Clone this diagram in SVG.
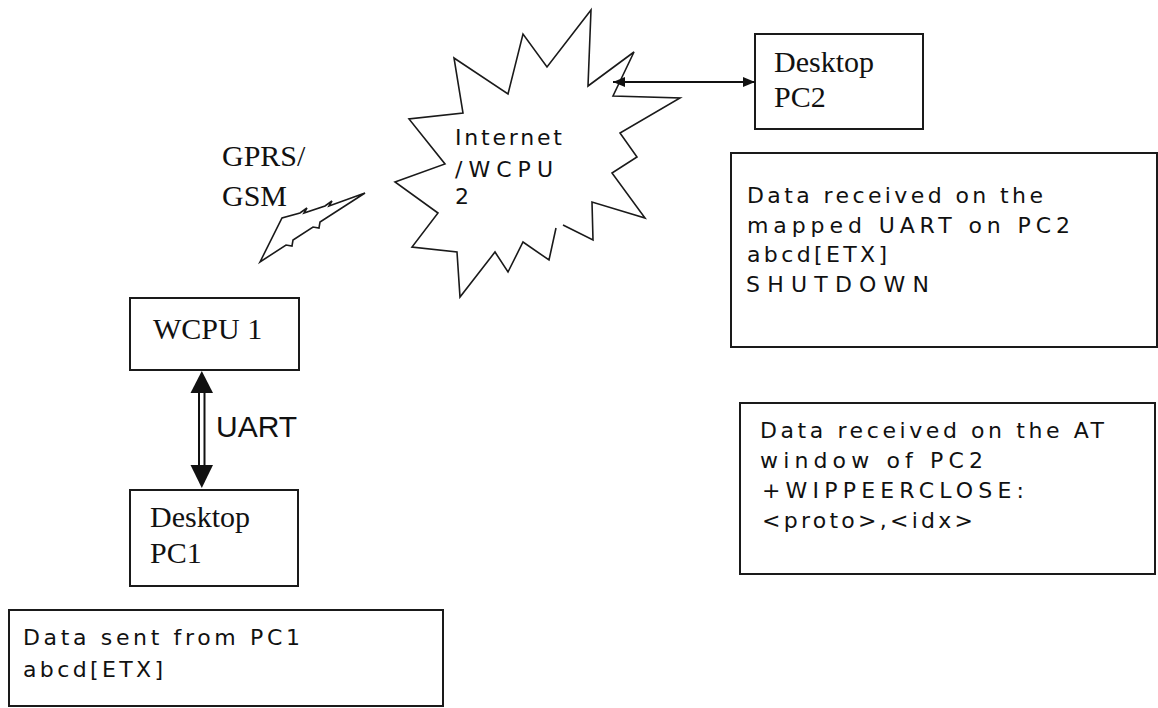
<svg xmlns="http://www.w3.org/2000/svg" width="1158" height="708" viewBox="0 0 1158 708">
<style>
.box{fill:#fff;stroke:#1a1a1a;stroke-width:2}
.shape{fill:#fff;stroke:#1a1a1a;stroke-width:1.6;stroke-linejoin:miter}
.serif{font-family:"Liberation Serif","Times New Roman",serif;font-size:30px;fill:#111}
.sans{font-family:"DejaVu Sans",Verdana,sans-serif;font-size:22px;fill:#111}
.label{font-family:"Liberation Sans",Arial,sans-serif;font-size:30px;fill:#111}
.line{stroke:#111;stroke-width:2;fill:none}
</style>
<defs>
<marker id="ah" viewBox="0 0 12 10" refX="12" refY="5" markerWidth="12" markerHeight="10" markerUnits="userSpaceOnUse" orient="auto-start-reverse">
<path d="M0,0 L12,5 L0,10 Z" fill="#111"/>
</marker>
</defs>
<rect width="1158" height="708" fill="#fff"/>

<g id="internet">
<path class="shape" d="M556,228 L549,260 L523,242 L508,272 L495,252 L460,297 L457,252 L412,247 L438,213 L395,182 L445,164 L409,119 L463,113 L454,58 L508,94 L523,34 L547,67 L591,10 L588,86 L634,52 L613,96 L680,98 L620,133 L637,157 L612,173 L645,218 L592,202 L593,240 L563,225"/>
<text class="sans" x="455" y="145" font-size="22" textLength="107" lengthAdjust="spacing">Internet</text>
<text class="sans" x="455" y="177" font-size="22" textLength="98" lengthAdjust="spacing">/WCPU</text>
<text class="sans" x="455" y="204" font-size="22">2</text>
</g>

<g id="gprs">
<path class="shape" d="M260,262 L282,218 L300,213 L307,208 L304,213 L325,206 L332,201 L329,206 L365,193 L320,222 L319,228 L313,227 L293,240 L292,246 L286,245 Z"/>
<text class="serif" x="222" y="166">GPRS/</text>
<text class="serif" x="222" y="206">GSM</text>
</g>

<g id="pc2">
<rect class="box" x="755" y="34" width="168" height="95"/>
<text class="serif" x="774" y="72">Desktop</text>
<text class="serif" x="774" y="107">PC2</text>
</g>

<g id="wcpu1">
<rect class="box" x="130" y="298" width="169" height="72"/>
<text class="serif" x="153" y="339">WCPU 1</text>
</g>

<g id="pc1">
<rect class="box" x="130" y="490" width="168" height="96"/>
<text class="serif" x="150" y="527">Desktop</text>
<text class="serif" x="150" y="563">PC1</text>
</g>

<g id="note-uart">
<rect class="box" x="731" y="153" width="426" height="194"/>
<text class="sans" x="747" y="203" textLength="296" lengthAdjust="spacing">Data received on the</text>
<text class="sans" x="747" y="233" textLength="323" lengthAdjust="spacing">mapped UART on PC2</text>
<text class="sans" x="747" y="262" textLength="140" lengthAdjust="spacing">abcd[ETX]</text>
<text class="sans" x="746" y="292" textLength="183" lengthAdjust="spacing">SHUTDOWN</text>
</g>

<g id="note-at">
<rect class="box" x="740" y="403" width="415" height="171"/>
<text class="sans" x="760" y="438" textLength="344" lengthAdjust="spacing">Data received on the AT</text>
<text class="sans" x="760" y="468" textLength="223" lengthAdjust="spacing">window of PC2</text>
<text class="sans" x="762" y="498" textLength="262" lengthAdjust="spacing">+WIPPEERCLOSE:</text>
<text class="sans" x="762" y="528" textLength="211" lengthAdjust="spacing">&lt;proto&gt;,&lt;idx&gt;</text>
</g>

<g id="note-sent">
<rect class="box" x="9" y="610" width="434" height="96"/>
<text class="sans" x="23" y="645" textLength="277" lengthAdjust="spacing">Data sent from PC1</text>
<text class="sans" x="23" y="677" textLength="140" lengthAdjust="spacing">abcd[ETX]</text>
</g>

<g id="connectors">
<line class="line" x1="613" y1="82" x2="755" y2="82" marker-start="url(#ah)" marker-end="url(#ah)"/>
<line class="line" x1="199" y1="390" x2="199" y2="468"/>
<line class="line" x1="204.5" y1="390" x2="204.5" y2="468"/>
<path d="M201.8,371 L213,393 L190.5,393 Z" fill="#111"/>
<path d="M201.8,488 L213,465 L190.5,465 Z" fill="#111"/>
<text class="label" x="216" y="437">UART</text>
</g>
</svg>
